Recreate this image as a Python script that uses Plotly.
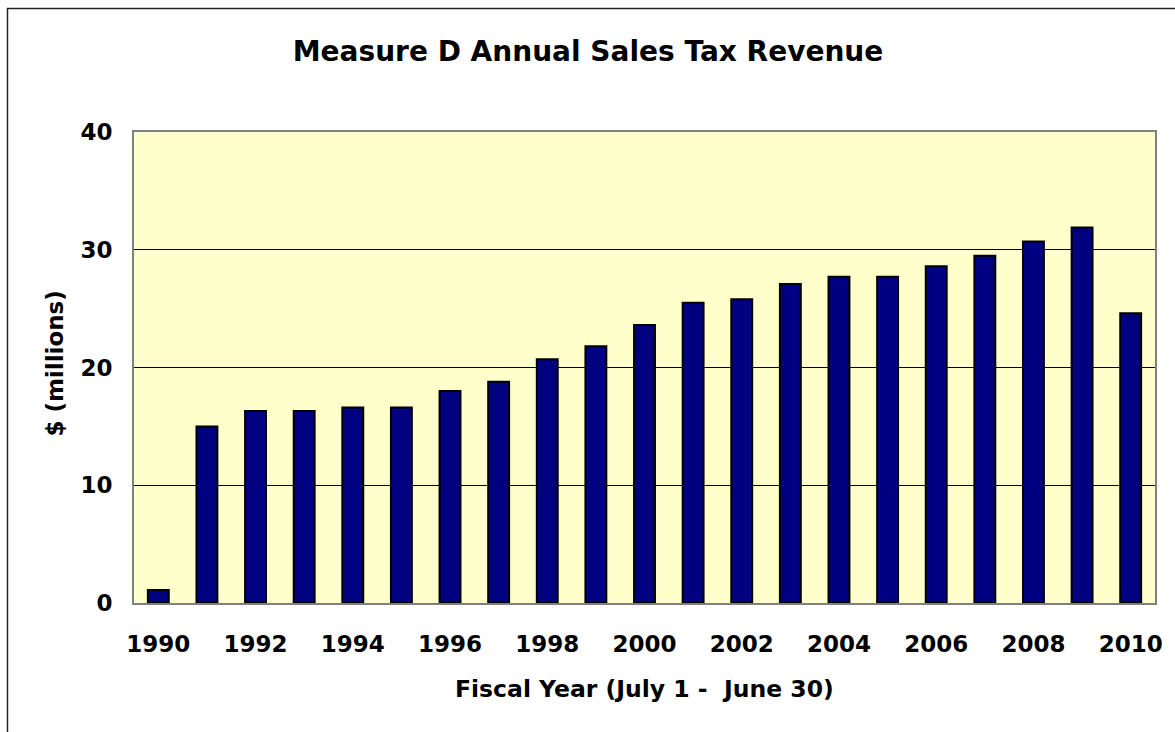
import plotly.graph_objects as go

years = [str(y) for y in range(1990, 2011)]
revenue = [1.1, 15.0, 16.3, 16.3, 16.6, 16.6, 18.0, 18.8, 20.7, 21.8, 23.6,
           25.5, 25.8, 27.1, 27.7, 27.7, 28.6, 29.5, 30.7, 31.9, 24.6]
tick_labels = [str(y) for y in range(1990, 2011, 2)]
y_ticks = [0, 10, 20, 30, 40]

W, H = 1175, 732
L, R, T, B = 134, 12, 132, 129
pw, ph = W - L - R, H - T - B

def px_x(p):
    return (p - L) / pw

def px_y(p):
    return (H - B - p) / ph

font_family = "DejaVu Sans"

fig = go.Figure()
fig.add_trace(go.Bar(
    x=years, y=revenue,
    marker=dict(color="#000080", line=dict(color="black", width=2)),
    width=0.43,
))

fig.update_layout(
    width=W, height=H,
    margin=dict(l=L, r=R, t=T, b=B),
    paper_bgcolor="white",
    plot_bgcolor="#FFFFCC",
    showlegend=False,
    font=dict(family=font_family, color="black"),
    title=dict(text="<b>Measure D Annual Sales Tax Revenue</b>",
               x=588 / W, xref="container", xanchor="center",
               y=1 - 51 / H, yref="container", yanchor="middle",
               font=dict(size=28, family=font_family, color="black")),
    bargap=0.57,
)

fig.update_xaxes(
    type="category",
    tickmode="array", tickvals=tick_labels, ticktext=["<b>%s</b>" % t for t in tick_labels],
    tickfont=dict(size=23, family=font_family, color="black"),
    ticks="", ticklabelstandoff=19,
    showline=True, linecolor="#808080", linewidth=2, mirror=True,
    showgrid=False,
)

fig.update_yaxes(
    range=[0, 40],
    tickmode="array", tickvals=y_ticks, ticktext=["<b>%d</b>" % v for v in y_ticks],
    tickfont=dict(size=23, family=font_family, color="black"),
    ticks="", ticklabelstandoff=15,
    showline=True, linecolor="#808080", linewidth=2, mirror=True,
    showgrid=True, gridcolor="black", gridwidth=1,
    zeroline=False,
)

fig.add_annotation(text="<b>Fiscal Year (July 1 -  June 30)</b>",
                   xref="paper", yref="paper", x=px_x(648), y=px_y(689),
                   xanchor="center", yanchor="middle", showarrow=False,
                   font=dict(size=23.5, family=font_family, color="black"))
fig.add_annotation(text="<b>$ (millions)</b>",
                   xref="paper", yref="paper", x=px_x(54), y=px_y(364),
                   xanchor="center", yanchor="middle", showarrow=False, textangle=-90,
                   font=dict(size=23, family=font_family, color="black"))

# outer chart frame (cropped on right and bottom)
fig.add_shape(type="rect", xref="paper", yref="paper",
              x0=px_x(6.5), x1=px_x(1200), y0=px_y(760), y1=px_y(8.5),
              line=dict(color="#222222", width=1.5), fillcolor="rgba(0,0,0,0)",
              layer="below")

fig.write_html("out.html",
               config={"displayModeBar": False},
               post_script="document.body.style.margin='0px';document.body.style.overflow='hidden';")
